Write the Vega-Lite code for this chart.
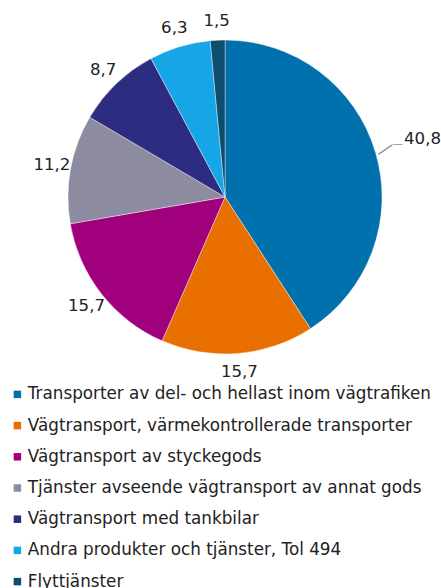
{
  "$schema": "https://vega.github.io/schema/vega-lite/v6.json",
  "width": 432,
  "height": 394,
  "padding": {"left": 9, "top": 0, "right": 0, "bottom": 194},
  "autosize": {"type": "none"},
  "background": "white",
  "data": {
    "values": [
      {"nr": 1, "category": "Transporter av del- och hellast inom vägtrafiken", "value": 40.8, "label": "40,8"},
      {"nr": 2, "category": "Vägtransport, värmekontrollerade transporter", "value": 15.7, "label": "15,7"},
      {"nr": 3, "category": "Vägtransport av styckegods", "value": 15.7, "label": "15,7"},
      {"nr": 4, "category": "Tjänster avseende vägtransport av annat gods", "value": 11.2, "label": "11,2"},
      {"nr": 5, "category": "Vägtransport med tankbilar", "value": 8.7, "label": "8,7"},
      {"nr": 6, "category": "Andra produkter och tjänster, Tol 494", "value": 6.3, "label": "6,3"},
      {"nr": 7, "category": "Flyttjänster", "value": 1.5, "label": "1,5"}
    ]
  },
  "encoding": {
    "theta": {"field": "value", "type": "quantitative", "stack": true},
    "order": {"field": "nr", "type": "quantitative"}
  },
  "layer": [
    {
      "mark": {"type": "arc", "outerRadius": 157, "stroke": "white", "strokeWidth": 0.4},
      "encoding": {
        "color": {
          "field": "category",
          "type": "nominal",
          "sort": null,
          "scale": {
            "domain": [
              "Transporter av del- och hellast inom vägtrafiken",
              "Vägtransport, värmekontrollerade transporter",
              "Vägtransport av styckegods",
              "Tjänster avseende vägtransport av annat gods",
              "Vägtransport med tankbilar",
              "Andra produkter och tjänster, Tol 494",
              "Flyttjänster"
            ],
            "range": ["#0071AC", "#E86F00", "#A1007D", "#8C8BA0", "#2C2C80", "#16A5E6", "#0D4E6E"]
          },
          "legend": {
            "orient": "none",
            "legendX": 0,
            "legendY": 386,
            "direction": "vertical",
            "title": null,
            "symbolType": "square",
            "symbolSize": 56,
            "symbolStrokeWidth": 0,
            "labelFont": "DejaVu Sans",
            "labelFontSize": 16.8,
            "labelColor": "#222222",
            "labelLimit": 0,
            "labelOffset": 2,
            "rowPadding": 13.2
          }
        }
      }
    },
    {
      "mark": {"type": "text", "font": "DejaVu Sans", "fontSize": 16.6, "color": "#222222", "radius": 176},
      "encoding": {
        "text": {"condition": {"test": "datum.nr != 1", "field": "label"}, "value": ""}
      }
    },
    {
      "mark": {"type": "text", "font": "DejaVu Sans", "fontSize": 16.6, "color": "#222222", "radius": 206},
      "encoding": {
        "text": {"condition": {"test": "datum.nr == 1", "field": "label"}, "value": ""}
      }
    },
    {
      "mark": {"type": "text", "font": "DejaVu Sans", "fontSize": 18, "color": "#8C8C8C", "radius": 167, "angle": 326},
      "encoding": {
        "text": {"condition": {"test": "datum.nr == 1", "value": "—"}, "value": ""}
      }
    },
    {
      "mark": {"type": "text", "font": "DejaVu Sans", "fontSize": 11, "color": "#8C8C8C", "radius": 180, "dy": -2},
      "encoding": {
        "text": {"condition": {"test": "datum.nr == 1", "value": "—"}, "value": ""}
      }
    }
  ]
}
